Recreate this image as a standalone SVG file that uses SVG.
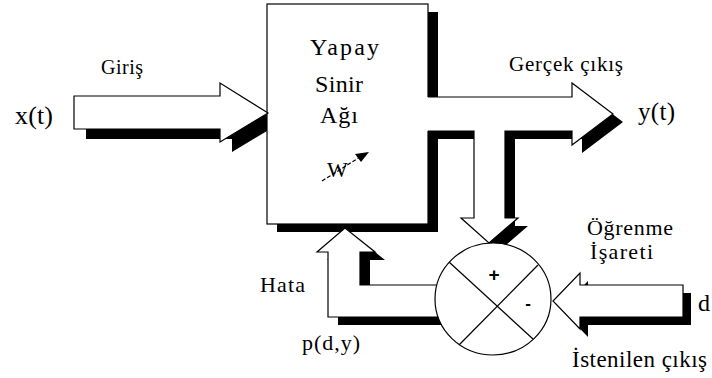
<svg xmlns="http://www.w3.org/2000/svg" width="712" height="378" viewBox="0 0 712 378">
<style>
.ol{fill:#fff;stroke:#000;stroke-width:1.2;stroke-linejoin:miter}
.fill{fill:#fff;stroke:none}
.line{fill:none;stroke:#000;stroke-width:1.2}
.sh{fill:#000;stroke:none}
.t{fill:#000}
.sym{font-family:'Liberation Sans','DejaVu Sans',sans-serif;font-weight:bold;fill:#000;text-anchor:middle}
</style>
<rect width="712" height="378" fill="#fff"/>

<g id="ann-box">
  <rect class="sh" x="277" y="12" width="161" height="220"/>
  <rect class="ol" x="267" y="4" width="161" height="220"/>
  <text class="t" font-family="Liberation Serif, serif" x="310" y="55" font-size="24" textLength="69" lengthAdjust="spacing">Yapay</text>
  <text class="t" font-family="Liberation Serif, serif" x="315" y="92" font-size="24" textLength="48" lengthAdjust="spacing">Sinir</text>
  <text class="t" font-family="Liberation Serif, serif" x="320" y="123" font-size="24" textLength="38" lengthAdjust="spacing">Ağı</text>
  <text class="t" font-family="Liberation Serif, serif" x="327" y="177" font-size="22">W</text>
  <line x1="322" y1="181" x2="360" y2="157" stroke="#000" stroke-width="1.2" stroke-dasharray="4,2"/>
  <polygon points="369,152 355,154 361,162" fill="#000"/>
</g>

<g id="connectors">
  <g id="input-arrow">
    <polygon class="sh" points="86,106 232,106 232,93 267,114.9 267,130.9 232,152 232,139 86,139"/>
    <polygon class="ol" points="74,96 220,96 220,83 268,113 220,142 220,129 74,129"/>
  </g>
  <g id="output-arrow">
    <polygon class="sh" transform="translate(10,8)" points="428,97 572,97 572,83 613,114 572,145 572,131 505,131 505,218 518,218 489,243 461,218 474,218 474,131 428,131"/>
    <polygon class="fill" points="427,97 572,97 572,83 613,114 572,145 572,131 505,131 505,218 518,218 489,243 461,218 474,218 474,131 427,131"/>
    <polyline class="line" points="428,97 572,97 572,83 613,114 572,145 572,131 505,131 505,218 518,218 489,243 461,218 474,218 474,131 428,131"/>
  </g>
  <g id="error-arrow">
    <polygon class="sh" transform="translate(10,8)" points="445,285 360,285 360,252 375,252 345,228 317,252 328,252 328,317 445,317"/>
    <polygon class="ol" points="445,285 360,285 360,252 375,252 345,228 317,252 328,252 328,317 445,317"/>
  </g>
  <g id="desired-arrow">
    <polygon class="sh" transform="translate(8,8)" points="683,285 580,285 580,273 553,301 580,329 580,317 683,317"/>
    <polygon class="ol" points="683,285 580,285 580,273 553,301 580,329 580,317 683,317"/>
  </g>
</g>

<g id="sum-junction">
  <ellipse class="ol" cx="493" cy="299" rx="58" ry="56"/>
  <line class="line" x1="449" y1="262" x2="533" y2="339"/>
  <line class="line" x1="538" y1="265" x2="459" y2="345"/>
  <text class="sym" x="494" y="281" font-size="19">+</text>
  <text class="sym" x="528" y="309" font-size="17">-</text>
</g>

<g id="labels">
  <text class="t" font-family="Liberation Serif, serif" x="101" y="74" font-size="20" textLength="42" lengthAdjust="spacing">Giriş</text>
  <text class="t" font-family="Liberation Serif, serif" x="15" y="124" font-size="26" textLength="38" lengthAdjust="spacing">x(t)</text>
  <text class="t" font-family="Liberation Serif, serif" x="509" y="71" font-size="21" textLength="114" lengthAdjust="spacing">Gerçek çıkış</text>
  <text class="t" font-family="Liberation Serif, serif" x="638" y="120" font-size="25" textLength="37" lengthAdjust="spacing">y(t)</text>
  <text class="t" font-family="Liberation Serif, serif" x="587" y="235" font-size="22" textLength="86" lengthAdjust="spacing">Öğrenme</text>
  <text class="t" font-family="Liberation Serif, serif" x="590" y="259" font-size="22" textLength="63" lengthAdjust="spacing">İşareti</text>
  <text class="t" font-family="Liberation Serif, serif" x="698" y="311" font-size="24">d</text>
  <text class="t" font-family="Liberation Serif, serif" x="572" y="367" font-size="23" textLength="135" lengthAdjust="spacing">İstenilen çıkış</text>
  <text class="t" font-family="Liberation Serif, serif" x="260" y="292" font-size="22" textLength="45" lengthAdjust="spacing">Hata</text>
  <text class="t" font-family="Liberation Serif, serif" x="302" y="350" font-size="22" textLength="58" lengthAdjust="spacing">p(d,y)</text>
</g>
</svg>
